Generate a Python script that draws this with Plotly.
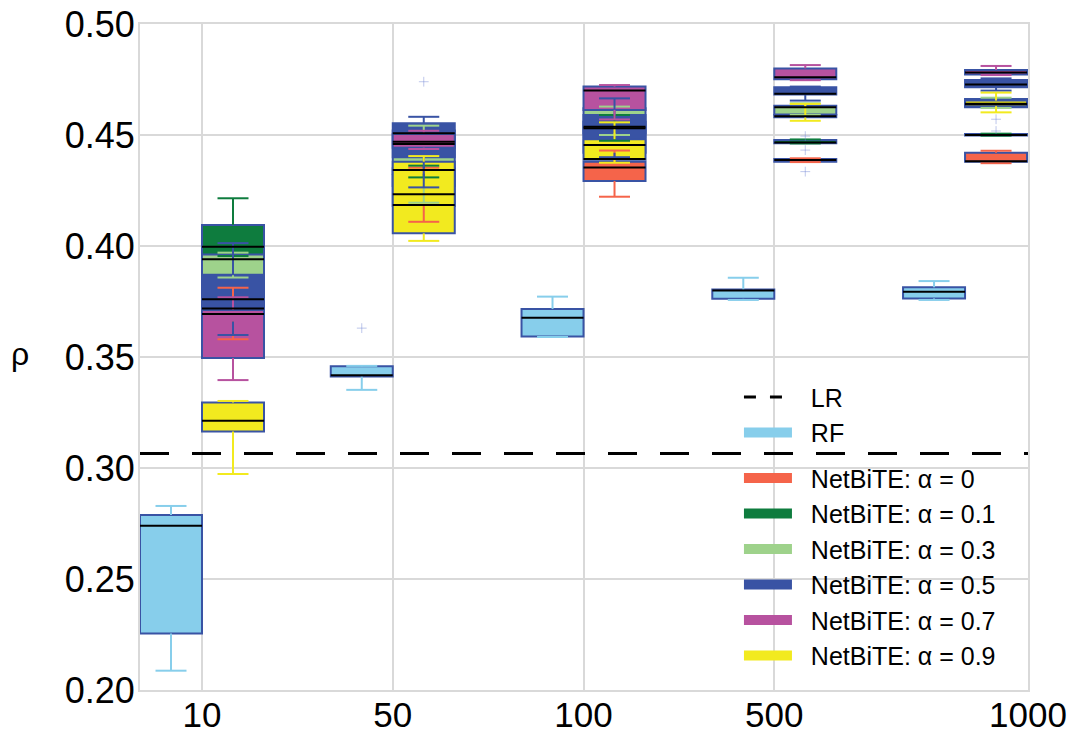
import plotly.graph_objects as go

# ---------------- data ----------------
sample_sizes = ["10", "50", "100", "500", "1000"]
lr_rho = 0.3065

# per sample size: [lower whisker, Q1, median, Q3, upper whisker]
rf_stats = [
    [0.2087, 0.2255, 0.2740, 0.2788, 0.2829],
    [0.3352, 0.3412, 0.3418, 0.3458, 0.3460],
    [0.3590, 0.3592, 0.3677, 0.3716, 0.3772],
    [0.3757, 0.3762, 0.3800, 0.3804, 0.3857],
    [0.3757, 0.3764, 0.3794, 0.3814, 0.3842],
]
a00_stats = [
    [0.3580, 0.3660, 0.3718, 0.3760, 0.3812],
    [0.4109, 0.4180, 0.4233, 0.4320, 0.4353],
    [0.4222, 0.4293, 0.4354, 0.4380, 0.4430],
    [0.4378, 0.4380, 0.4387, 0.4392, 0.4395],
    [0.4373, 0.4380, 0.4382, 0.4420, 0.4429],
]
a01_stats = [
    [0.3955, 0.3960, 0.3997, 0.4095, 0.4215],
    [0.4309, 0.4325, 0.4342, 0.4350, 0.4362],
    [0.4474, 0.4490, 0.4530, 0.4560, 0.4590],
    [0.4462, 0.4463, 0.4466, 0.4478, 0.4480],
    [0.4497, 0.4498, 0.4500, 0.4504, 0.4506],
]
a03_stats = [
    [0.3858, 0.3870, 0.3940, 0.3962, 0.3970],
    [0.4195, 0.4270, 0.4459, 0.4520, 0.4542],
    [0.4500, 0.4508, 0.4537, 0.4620, 0.4628],
    [0.4590, 0.4592, 0.4625, 0.4632, 0.4643],
    [0.4622, 0.4625, 0.4638, 0.4662, 0.4668],
]
a05_stats = [
    [0.3599, 0.3660, 0.3760, 0.3868, 0.4013],
    [0.4264, 0.4400, 0.4508, 0.4553, 0.4582],
    [0.4400, 0.4420, 0.4455, 0.4590, 0.4665],
    [0.4655, 0.4682, 0.4686, 0.4715, 0.4718],
    [0.4700, 0.4715, 0.4728, 0.4748, 0.4755],
]
a07_stats = [
    [0.3396, 0.3495, 0.3694, 0.3712, 0.3769],
    [0.4437, 0.4443, 0.4470, 0.4505, 0.4519],
    [0.4570, 0.4613, 0.4700, 0.4718, 0.4725],
    [0.4747, 0.4751, 0.4760, 0.4800, 0.4815],
    [0.4770, 0.4773, 0.4781, 0.4793, 0.4811],
]
a09_stats = [
    [0.2973, 0.3164, 0.3213, 0.3295, 0.3302],
    [0.4023, 0.4057, 0.4185, 0.4380, 0.4405],
    [0.4375, 0.4388, 0.4392, 0.4481, 0.4557],
    [0.4564, 0.4580, 0.4585, 0.4590, 0.4640],
    [0.4602, 0.4630, 0.4641, 0.4655, 0.4691],
]

# outliers per sample size
rf_fliers = [[], [0.3630], [], [], []]
a00_fliers = [[], [], [], [0.4335], []]
a01_fliers = [[], [], [], [0.4495, 0.4432], [0.4518]]
a03_fliers = [[], [], [], [], [0.4571]]
a05_fliers = [[], [0.4740], [], [], []]
a07_fliers = [[], [], [], [], []]
a09_fliers = [[], [], [], [], []]

series_names = ["RF", "NetBiTE: α = 0", "NetBiTE: α = 0.1", "NetBiTE: α = 0.3",
                "NetBiTE: α = 0.5", "NetBiTE: α = 0.7", "NetBiTE: α = 0.9"]
series_stats = [rf_stats, a00_stats, a01_stats, a03_stats, a05_stats, a07_stats, a09_stats]
series_fliers = [rf_fliers, a00_fliers, a01_fliers, a03_fliers, a05_fliers, a07_fliers, a09_fliers]
series_colors = ["#87ceeb", "#f5644a", "#0e7c3e", "#9ed28b", "#3953a4", "#b7529f", "#f2ea1f"]

# ---------------- style ----------------
BOX_W = 0.325
EDGE = "#3953a4"
GRID = "#d9d9d9"
FLIER = "rgba(110,130,210,0.45)"
FONT = "Arial, Liberation Sans, Helvetica, sans-serif"
PAD = "\u00a0\u00a0"

group_pos = list(range(len(sample_sizes)))
x_lo = -BOX_W
x_hi = group_pos[-1] + 0.33

fig = go.Figure()


def centers(k):
    off = -BOX_W / 2 if k == 0 else BOX_W / 2
    return [p + off for p in group_pos]


# boxes (patches)
for k, stats in enumerate(series_stats):
    xc = centers(k)
    fig.add_trace(go.Bar(
        x=xc,
        y=[s[3] - s[1] for s in stats],
        base=[s[1] for s in stats],
        width=BOX_W,
        marker=dict(color=series_colors[k], line=dict(color=EDGE, width=2)),
        showlegend=False, hoverinfo="skip",
    ))

# whiskers and caps
for k, stats in enumerate(series_stats):
    xc = centers(k)
    xs, ys = [], []
    for c, s in zip(xc, stats):
        lo, q1, med, q3, hi = s
        xs += [c, c, None, c, c, None]
        ys += [q1, lo, None, q3, hi, None]
        xs += [c - BOX_W / 4, c + BOX_W / 4, None, c - BOX_W / 4, c + BOX_W / 4, None]
        ys += [lo, lo, None, hi, hi, None]
    fig.add_trace(go.Scatter(x=xs, y=ys, mode="lines",
                             line=dict(color=series_colors[k], width=2),
                             showlegend=False, hoverinfo="skip"))

# fliers
for k, fl in enumerate(series_fliers):
    xc = centers(k)
    fx, fy = [], []
    for c, vals in zip(xc, fl):
        for v in vals:
            fx.append(c)
            fy.append(v)
    if fx:
        fig.add_trace(go.Scatter(x=fx, y=fy, mode="markers",
                                 marker=dict(symbol="cross-thin-open", size=7, color=FLIER,
                                             line=dict(color=FLIER, width=1)),
                                 showlegend=False, hoverinfo="skip"))

# medians
mx, my = [], []
for k, stats in enumerate(series_stats):
    for c, s in zip(centers(k), stats):
        mx += [c - BOX_W / 2, c + BOX_W / 2, None]
        my += [s[2], s[2], None]
fig.add_trace(go.Scatter(x=mx, y=my, mode="lines", line=dict(color="black", width=2),
                         showlegend=False, hoverinfo="skip"))

# LR reference line
fig.add_trace(go.Scatter(x=[x_lo, x_hi], y=[lr_rho, lr_rho], mode="lines",
                         line=dict(color="black", width=3, dash="29px,23px"),
                         showlegend=False, hoverinfo="skip"))

# legend entries
fig.add_trace(go.Scatter(x=[None], y=[None], mode="lines", name=PAD + "LR",
                         line=dict(color="black", width=3, dash="12px,14px"),
                         legendgroup="a"))
for k, name in enumerate(series_names):
    fig.add_trace(go.Scatter(x=[None], y=[None], mode="lines", name=PAD + name,
                             line=dict(color=series_colors[k], width=16),
                             legendgroup="a" if k == 0 else "b"))

fig.update_layout(
    width=1070, height=733,
    margin=dict(l=140, r=42, t=24, b=43, autoexpand=False),
    plot_bgcolor="white", paper_bgcolor="white",
    barmode="overlay",
    font=dict(family=FONT, color="black"),
    legend=dict(x=0.6745, y=0.474, xanchor="left", yanchor="top",
                bgcolor="rgba(0,0,0,0)", font=dict(size=25, family=FONT),
                itemwidth=48, tracegroupgap=10, traceorder="grouped"),
    annotations=[dict(text="ρ", xref="paper", yref="paper", x=-0.147, y=0.505,
                      showarrow=False, font=dict(size=32, family=FONT))],
)
fig.update_xaxes(range=[x_lo, x_hi], tickvals=group_pos[:-1] + [x_hi], ticktext=sample_sizes,
                 showgrid=True, gridcolor=GRID, gridwidth=2, zeroline=False,
                 showline=True, mirror=True, linecolor=GRID, linewidth=2, automargin=False,
                 ticks="", ticklabelstandoff=-7, ticklabeloverflow="allow",
                 tickfont=dict(size=35, family=FONT))
fig.update_yaxes(range=[0.20, 0.50], dtick=0.05, tickformat=".2f",
                 showgrid=True, gridcolor=GRID, gridwidth=2, zeroline=False,
                 showline=True, mirror=True, linecolor=GRID, linewidth=2, automargin=False,
                 ticks="", ticklabelstandoff=-4, ticklabeloverflow="allow",
                 tickfont=dict(size=36, family=FONT))

fig.write_html("out.html", config={"displayModeBar": False},
               post_script="document.body.style.margin='0';")
